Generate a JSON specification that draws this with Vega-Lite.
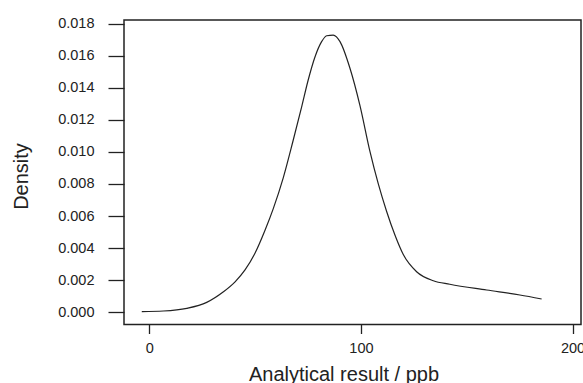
{
  "$schema": "https://vega.github.io/schema/vega-lite/v6.json",
  "autosize": {"type": "none"},
  "padding": {"left": 124, "top": 20, "right": 2, "bottom": 58},
  "width": 457,
  "height": 304.5,
  "background": "white",
  "config": {
    "font": "Liberation Sans",
    "view": {"stroke": "#222", "strokeWidth": 1.5},
    "axis": {
      "domain": false,
      "grid": false,
      "tickColor": "#222",
      "tickWidth": 1.3,
      "labelColor": "#222",
      "titleColor": "#222",
      "labelFont": "Liberation Sans",
      "titleFont": "Liberation Sans",
      "labelFontSize": 14.5,
      "titleFontSize": 20,
      "titleFontWeight": "normal"
    }
  },
  "data": {
    "values": [
      {"x": -3.6, "d": 0.00004},
      {"x": 6.6, "d": 0.00008},
      {"x": 17.7, "d": 0.00025},
      {"x": 27.1, "d": 0.00062},
      {"x": 35.0, "d": 0.00128},
      {"x": 40.5, "d": 0.0019},
      {"x": 45.2, "d": 0.00264},
      {"x": 49.9, "d": 0.00368},
      {"x": 54.7, "d": 0.00513},
      {"x": 58.6, "d": 0.00648},
      {"x": 63.3, "d": 0.0084},
      {"x": 68.0, "d": 0.01074},
      {"x": 72.0, "d": 0.01282},
      {"x": 75.0, "d": 0.01445},
      {"x": 78.3, "d": 0.01593},
      {"x": 81.4, "d": 0.01687},
      {"x": 83.8, "d": 0.01724},
      {"x": 86.9, "d": 0.01728},
      {"x": 90.1, "d": 0.01687},
      {"x": 94.8, "d": 0.01521},
      {"x": 99.5, "d": 0.01290},
      {"x": 104.3, "d": 0.01000},
      {"x": 108.2, "d": 0.00800},
      {"x": 112.1, "d": 0.00630},
      {"x": 116.1, "d": 0.00480},
      {"x": 120.0, "d": 0.00360},
      {"x": 126.3, "d": 0.00253},
      {"x": 134.2, "d": 0.00197},
      {"x": 142.0, "d": 0.00175},
      {"x": 159.4, "d": 0.00139},
      {"x": 175.1, "d": 0.00108},
      {"x": 185.4, "d": 0.00083}
    ]
  },
  "mark": {"type": "line", "interpolate": "monotone", "color": "#222", "strokeWidth": 1.2},
  "encoding": {
    "x": {
      "field": "x",
      "type": "quantitative",
      "scale": {"domain": [-12, 204], "nice": false, "zero": false},
      "axis": {
        "title": "Analytical result / ppb",
        "values": [0, 100, 200],
        "tickSize": 9,
        "labelPadding": 8,
        "titleX": 219.5,
        "titleY": 55.5,
        "titleBaseline": "alphabetic",
        "titleAlign": "center"
      }
    },
    "y": {
      "field": "d",
      "type": "quantitative",
      "scale": {"domain": [-0.00076, 0.01822], "nice": false, "zero": false},
      "axis": {
        "title": "Density",
        "values": [0, 0.002, 0.004, 0.006, 0.008, 0.01, 0.012, 0.014, 0.016, 0.018],
        "format": ".3f",
        "tickSize": 16,
        "labelPadding": 14,
        "titleX": -97,
        "titleY": 156,
        "titleAngle": -90,
        "titleBaseline": "alphabetic",
        "titleAlign": "center"
      }
    }
  }
}
